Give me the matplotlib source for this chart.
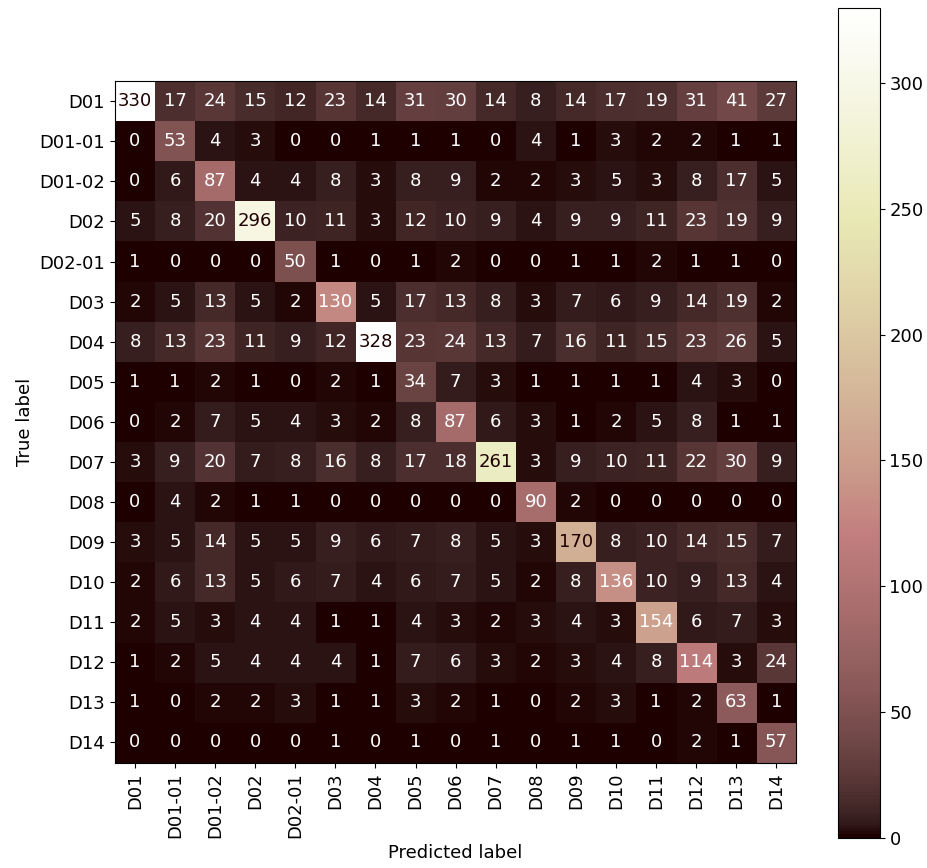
import numpy as np
import matplotlib
matplotlib.use("Agg")
import matplotlib.pyplot as plt

# class labels
labels = ["D01", "D01-01", "D01-02", "D02", "D02-01", "D03", "D04", "D05", "D06",
          "D07", "D08", "D09", "D10", "D11", "D12", "D13", "D14"]

# confusion matrix rows (true label)
row_D01 = [330, 17, 24, 15, 12, 23, 14, 31, 30, 14, 8, 14, 17, 19, 31, 41, 27]
row_D01_01 = [0, 53, 4, 3, 0, 0, 1, 1, 1, 0, 4, 1, 3, 2, 2, 1, 1]
row_D01_02 = [0, 6, 87, 4, 4, 8, 3, 8, 9, 2, 2, 3, 5, 3, 8, 17, 5]
row_D02 = [5, 8, 20, 296, 10, 11, 3, 12, 10, 9, 4, 9, 9, 11, 23, 19, 9]
row_D02_01 = [1, 0, 0, 0, 50, 1, 0, 1, 2, 0, 0, 1, 1, 2, 1, 1, 0]
row_D03 = [2, 5, 13, 5, 2, 130, 5, 17, 13, 8, 3, 7, 6, 9, 14, 19, 2]
row_D04 = [8, 13, 23, 11, 9, 12, 328, 23, 24, 13, 7, 16, 11, 15, 23, 26, 5]
row_D05 = [1, 1, 2, 1, 0, 2, 1, 34, 7, 3, 1, 1, 1, 1, 4, 3, 0]
row_D06 = [0, 2, 7, 5, 4, 3, 2, 8, 87, 6, 3, 1, 2, 5, 8, 1, 1]
row_D07 = [3, 9, 20, 7, 8, 16, 8, 17, 18, 261, 3, 9, 10, 11, 22, 30, 9]
row_D08 = [0, 4, 2, 1, 1, 0, 0, 0, 0, 0, 90, 2, 0, 0, 0, 0, 0]
row_D09 = [3, 5, 14, 5, 5, 9, 6, 7, 8, 5, 3, 170, 8, 10, 14, 15, 7]
row_D10 = [2, 6, 13, 5, 6, 7, 4, 6, 7, 5, 2, 8, 136, 10, 9, 13, 4]
row_D11 = [2, 5, 3, 4, 4, 1, 1, 4, 3, 2, 3, 4, 3, 154, 6, 7, 3]
row_D12 = [1, 2, 5, 4, 4, 4, 1, 7, 6, 3, 2, 3, 4, 8, 114, 3, 24]
row_D13 = [1, 0, 2, 2, 3, 1, 1, 3, 2, 1, 0, 2, 3, 1, 2, 63, 1]
row_D14 = [0, 0, 0, 0, 0, 1, 0, 1, 0, 1, 0, 1, 1, 0, 2, 1, 57]

cm = np.array([row_D01, row_D01_01, row_D01_02, row_D02, row_D02_01, row_D03,
               row_D04, row_D05, row_D06, row_D07, row_D08, row_D09, row_D10,
               row_D11, row_D12, row_D13, row_D14])

fs = 13
fig = plt.figure(figsize=(9.27, 8.68), dpi=100)
ax = fig.add_axes([0.124, 0.119, 0.735, 0.790])
cax = fig.add_axes([0.904, 0.035, 0.045, 0.956])

cmap = plt.get_cmap("pink")
im = ax.imshow(cm, cmap=cmap, interpolation="nearest", vmin=cm.min(), vmax=cm.max())

# text colour switches at the middle of the range, like sklearn
thresh = (cm.max() + cm.min()) / 2.0
for i in range(cm.shape[0]):
    for j in range(cm.shape[1]):
        color = cmap(0) if cm[i, j] >= thresh else cmap(1.0)
        ax.text(j, i, str(cm[i, j]), ha="center", va="center", color=color, fontsize=fs)

ax.set_xticks(range(len(labels)))
ax.set_yticks(range(len(labels)))
ax.set_xticklabels(labels, rotation=90, fontsize=fs)
ax.set_yticklabels(labels, fontsize=fs)
ax.set_xlabel("Predicted label", fontsize=fs)
ax.set_ylabel("True label", fontsize=fs)

cb = fig.colorbar(im, cax=cax)
cb.ax.tick_params(labelsize=fs)

fig.savefig("out.png", dpi=100)
